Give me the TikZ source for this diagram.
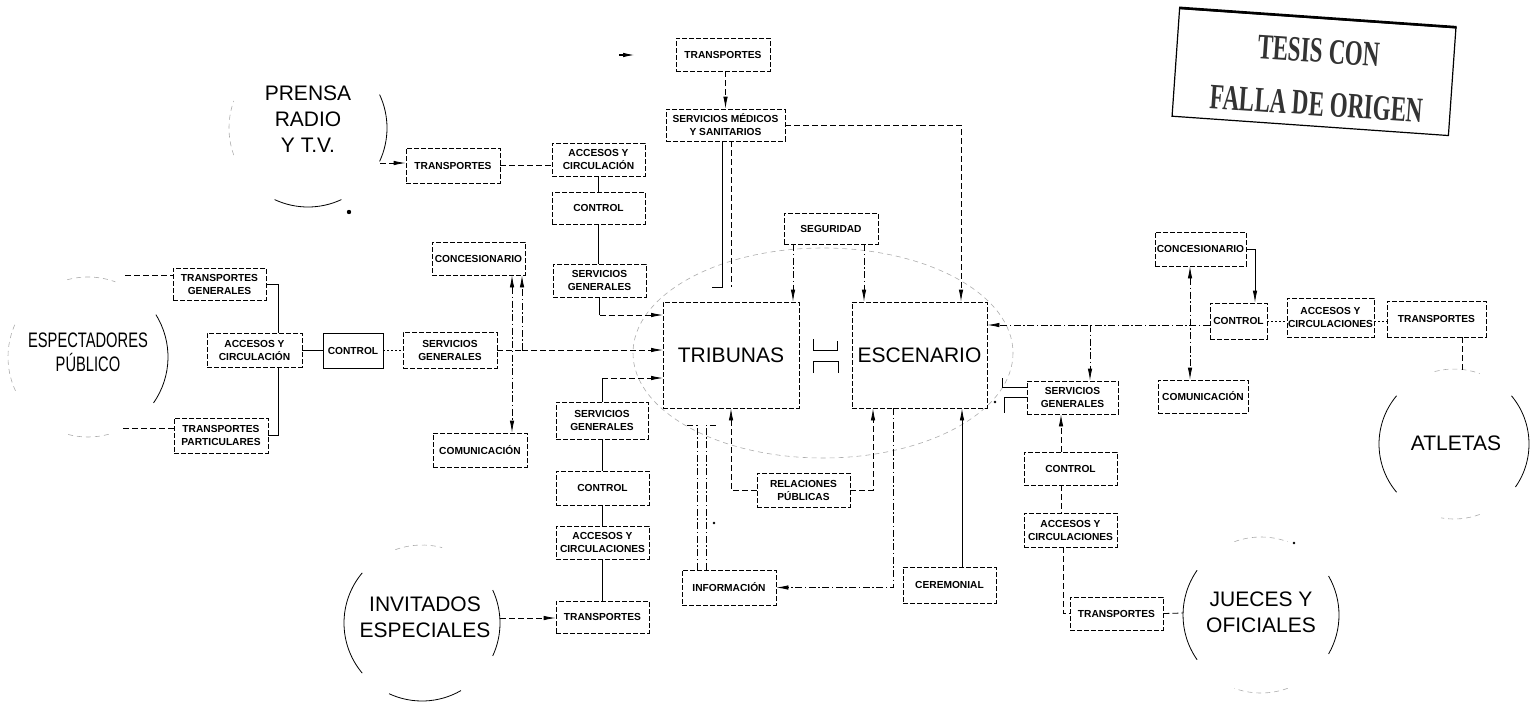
\documentclass[tikz,border=0pt]{standalone}
\usepackage{fontspec}
\usepackage{graphicx}
\setmainfont{Liberation Sans}
\newfontfamily\condfont[FakeStretch=0.7]{Liberation Sans}
\newfontfamily\stampfont{Liberation Serif}
\usetikzlibrary{arrows.meta,calc}
\newcommand\smf{\fontsize{10.2}{13}\selectfont\bfseries}
\newcommand\bigf{\fontsize{21}{26}\selectfont}
\newcommand\condbig{\condfont\fontsize{21}{24}\selectfont}
\newcommand\stampf{\stampfont\bfseries\fontsize{23}{28}\selectfont}
\newcommand\carc[5]{\draw[#1] ([shift={(#3:#5)}]#2) arc[start angle=#3,end angle=#4,radius=#5];}
\tikzset{
  bx/.style={draw,line width=0.8pt,dash pattern=on 5pt off 2pt,fill=white,inner sep=0.5pt,align=center,font=\smf},
  sbx/.style={bx,solid},
  wh/.style 2 args={minimum width=#1pt,minimum height=#2pt},
  big/.style={align=center,font=\bigf},
  cn/.style={line width=0.8pt},
  dcn/.style={line width=0.8pt,dash pattern=on 6pt off 3pt},
  ddcn/.style={line width=0.8pt,dash pattern=on 7pt off 2.5pt on 1.5pt off 2.5pt},
  dotc/.style={line width=0.8pt,dash pattern=on 2pt off 2pt},
  arr/.style={-{Latex[length=12pt,width=4.5pt]}},
  arrb/.style={{Latex[length=12pt,width=4.5pt]}-{Latex[length=12pt,width=4.5pt]}},
  faint/.style={gray!65,line width=0.6pt,dash pattern=on 5pt off 4pt},
  arcst/.style={line width=0.8pt},
  stamptext/.style={rotate=-4,inner sep=0pt,font=\stampf,text=black!80}
}
\begin{document}
\begin{tikzpicture}[x=1pt,y=-1pt]
\useasboundingbox (0,0) rectangle (1531,707);

% big ellipse behind the central boxes
\draw[faint] (823,353) ellipse[x radius=190,y radius=105];

% ---------- circles (partial arcs) ----------
\carc{faint}{308,128}{160}{200}{79}
\carc{arcst}{308,128}{-25}{25}{79}
\carc{arcst}{308,128}{65}{115}{79}
\carc{faint}{88,357}{155}{205}{80}
\carc{arcst}{88,357}{-32}{35}{80}
\carc{faint}{88,357}{255}{290}{80}
\carc{faint}{88,357}{75}{105}{80}
\carc{arcst}{422,623}{140}{220}{78}
\carc{arcst}{422,623}{-25}{25}{78}
\carc{arcst}{422,623}{60}{115}{78}
\carc{faint}{422,623}{250}{285}{78}
\carc{arcst}{1261,615}{145}{215}{78}
\carc{arcst}{1261,615}{-30}{30}{78}
\carc{faint}{1261,615}{250}{290}{78}
\carc{faint}{1261,615}{70}{110}{78}
\carc{arcst}{1454,444}{140}{220}{75}
\carc{arcst}{1454,444}{-40}{35}{75}
\carc{faint}{1454,444}{255}{290}{75}
\carc{faint}{1454,444}{70}{100}{75}

\node[big] (prensa) at (308,119) {PRENSA\\RADIO\\Y T.V.};
\node[align=center,font=\condbig] (espec) at (88,352) {ESPECTADORES\\PÚBLICO};
\node[big] (invit) at (425,617) {INVITADOS\\ESPECIALES};
\node[big] (jueces) at (1261,612) {JUECES Y\\OFICIALES};
\node[big] (atl) at (1456,443) {ATLETAS};

% ---------- boxes ----------
\node[bx,wh={93}{32}] (tg) at (219.5,284) {TRANSPORTES\\GENERALES};
\node[bx,wh={95}{34}] (acl) at (254.5,350) {ACCESOS Y\\CIRCULACIÓN};
\node[sbx,wh={60}{35}] (ctl) at (353,350.5) {CONTROL};
\node[bx,wh={94}{36}] (sgl) at (450,350) {SERVICIOS\\GENERALES};
\node[bx,wh={94}{35}] (tp) at (221,435.5) {TRANSPORTES\\PARTICULARES};
\node[bx,wh={93}{33}] (conl) at (478.5,258.5) {CONCESIONARIO};
\node[bx,wh={94}{34}] (coml) at (480,450) {COMUNICACIÓN};
\node[bx,wh={94}{35}] (trp) at (453,165.5) {TRANSPORTES};

\node[bx,wh={93}{33}] (act) at (598.5,159.5) {ACCESOS Y\\CIRCULACIÓN};
\node[bx,wh={93}{32}] (ctt) at (598.5,208) {CONTROL};
\node[bx,wh={93}{33}] (sgt) at (599.5,280.5) {SERVICIOS\\GENERALES};
\node[bx,wh={94}{33}] (trt) at (723,54.5) {TRANSPORTES};
\node[bx,wh={119}{32}] (sms) at (725.5,125) {SERVICIOS MÉDICOS\\Y SANITARIOS};
\node[bx,wh={94}{31}] (seg) at (831,228.5) {SEGURIDAD};

\node[bx,wh={136}{106},font=\bigf] (trib) at (731,355) {TRIBUNAS};
\node[bx,wh={135}{106},font=\bigf] (esc) at (919.5,355) {ESCENARIO};
\node[bx,wh={93}{34}] (rp) at (803.5,490) {RELACIONES\\PÚBLICAS};
\node[bx,wh={94}{35}] (info) at (729,587.5) {INFORMACIÓN};
\node[bx,wh={93}{36}] (cer) at (949.5,585) {CEREMONIAL};

\node[bx,wh={92}{37}] (sgb) at (602,420.5) {SERVICIOS\\GENERALES};
\node[bx,wh={93}{34}] (ctb) at (602.5,488) {CONTROL};
\node[bx,wh={93}{33}] (acb) at (602.5,542.5) {ACCESOS Y\\CIRCULACIONES};
\node[bx,wh={93}{32}] (trb) at (602.5,617) {TRANSPORTES};

\node[bx,wh={91}{33}] (sgr) at (1072.5,397.5) {SERVICIOS\\GENERALES};
\node[bx,wh={93}{33}] (ctr2) at (1070.5,468.5) {CONTROL};
\node[bx,wh={93}{34}] (acr2) at (1070.5,530) {ACCESOS Y\\CIRCULACIONES};
\node[bx,wh={93}{33}] (trj) at (1116.5,613.5) {TRANSPORTES};
\node[bx,wh={91}{34}] (conr) at (1200.5,249) {CONCESIONARIO};
\node[bx,wh={90}{33}] (comr) at (1203,396.5) {COMUNICACIÓN};
\node[bx,wh={57}{36}] (ctr) at (1238.5,321) {CONTROL};
\node[bx,wh={87}{39}] (acr) at (1330.5,317.5) {ACCESOS Y\\CIRCULACIONES};
\node[bx,wh={99}{36}] (tra) at (1436.5,319) {TRANSPORTES};

% ---------- helper coordinates ----------
\coordinate (pr1) at (380,163);
\coordinate (tl1) at (663,315);
\coordinate (tl2) at (663,350);
\coordinate (tl3) at (663,378);
\coordinate (j522) at (522,350);
\coordinate (x512) at (512,0);
\coordinate (iv1) at (500,618);
\coordinate (e1) at (125,275);
\coordinate (e2) at (123,428);
\coordinate (x278) at (278,0);
\coordinate (o1) at (619,55);
\coordinate (o2) at (635,55);
\coordinate (x722) at (722,0);
\coordinate (x731) at (731,0);
\coordinate (x961) at (961,0);
\coordinate (x793) at (793,0);
\coordinate (x864) at (864,0);
\coordinate (x873) at (873,0);
\coordinate (x893) at (893,0);
\coordinate (x962) at (962,0);
\coordinate (x697) at (697,0);
\coordinate (x706) at (706,0);
\coordinate (r325) at (0,325);
\coordinate (x1090) at (1090,0);
\coordinate (x1061) at (1061,0);
\coordinate (x1063) at (1063,0);
\coordinate (ju1) at (1183,613);
\coordinate (x1190) at (1190,0);
\coordinate (x1255) at (1255,0);
\coordinate (atop) at (1462,370);

% ---------- connectors: left ----------
\draw[dcn,arr] (pr1) -- (pr1 -| trp.west);
\draw[dcn] (trp.east) -- (trp.east -| act.west);
\draw[dcn] (e1) -- (e1 -| tg.west);
\draw[dcn] (e2) -- (e2 -| tp.west);
\draw[cn] (tg.east) -| (acl.north -| x278);
\draw[cn] (acl.south -| x278) |- (tp.east);
\draw[cn] (acl.east) -- (acl.east -| ctl.west);
\draw[dotc] (ctl.east) -- (ctl.east -| sgl.west);
\draw[dcn] (sgl.east) -- (j522);
\draw[dcn,arr] (j522) -- (tl2);
\draw[ddcn,arr] (j522) -- (j522 |- conl.south);
\draw[ddcn,arrb] (conl.south -| x512) -- (coml.north -| x512);

% ---------- connectors: top ----------
\draw[cn] (act.south) -- (act.south |- ctt.north);
\draw[cn] (ctt.south) -- (ctt.south |- sgt.north);
\draw[cn] (sgt.south) -- (sgt.south |- tl1);
\draw[dcn,arr] (sgt.south |- tl1) -- (tl1);
\draw[dcn,arr] (sms.north |- trt.south) -- (sms.north);
\draw[line width=1.3pt,arr] (o1) -- (o2);
\draw[cn] (sms.south -| x722) -- (722,287) -- (712,287);
\draw[dcn] (sms.south -| x731) -- (731,287);
\draw[dcn,arr] (sms.east) -| (esc.north -| x961);
\draw[ddcn,arr] (seg.south -| x793) -- (trib.north -| x793);
\draw[ddcn,arr] (seg.south -| x864) -- (esc.north -| x864);

% ---------- connectors: lower middle ----------
\draw[cn] (sgb.north) -- (sgb.north |- tl3);
\draw[dcn,arr] (sgb.north |- tl3) -- (tl3);
\draw[cn] (sgb.south) -- (sgb.south |- ctb.north);
\draw[cn] (ctb.south) -- (ctb.south |- acb.north);
\draw[cn] (acb.south) -- (acb.south |- trb.north);
\draw[dcn,arr] (iv1) -- (iv1 -| trb.west);

% ---------- connectors: centre ----------
\draw[dcn,arr] (rp.west) -| (trib.south);
\draw[dcn,arr] (rp.east) -| (esc.south -| x873);
\draw[ddcn,arr] (esc.south -| x893) |- (info.east);
\draw[cn,arr] (cer.north -| x962) -- (esc.south -| x962);
\draw[ddcn] (info.north -| x697) -- (697,425) -- (687,425);
\draw[ddcn] (info.north -| x706) -- (706,425) -- (716,425);
% joint symbol between TRIBUNAS and ESCENARIO
\draw[cn] (813,339) -- (813,350) -- (837,350) -- (837,341);
\draw[cn] (813,373) -- (813,361) -- (838,361) -- (838,373);

% ---------- connectors: right ----------
\draw[ddcn,arr] (ctr.west |- r325) -- (esc.east |- r325);
\draw[ddcn,arr] (x1090 |- r325) -- (sgr.north -| x1090);
\draw[dcn,arr] (ctr2.north -| x1061) -- (sgr.south -| x1061);
\draw[dcn] (ctr2.south -| x1061) -- (acr2.north -| x1061);
\draw[dcn] (acr2.south -| x1063) |- (trj.west);
\draw[dcn] (trj.east) -- (ju1);
\draw[ddcn,arrb] (conr.south -| x1190) -- (comr.north -| x1190);
\draw[cn,arr] (conr.east) -| (ctr.north -| x1255);
\draw[dotc] (ctr.east) -- (ctr.east -| acr.west);
\draw[dotc] (acr.east |- ctr.east) -- (tra.west |- ctr.east);
\draw[dcn] (tra.south -| atop) -- (atop);
% brackets at left of SERVICIOS GENERALES (right)
\draw[cn] (1002,378) -- (1002,387) -- (1027,387);
\draw[cn] (1027,397) -- (1004,397) -- (1004,413);

% ---------- dots ----------
\fill (349,212) circle[radius=2.2];
\fill (995,402) circle[radius=1.3];
\fill (714,523) circle[radius=1.3];
\fill (1294,543) circle[radius=1.3];

% ---------- stamp ----------
\node[draw,line width=1.2pt,rotate=-4,minimum width=277pt,minimum height=108pt] (stamp) at (1314,72) {};
\draw[line width=2.6pt] (stamp.north west) -- (stamp.north east);
\node[stamptext] (stamp1) at (1319,51) {\scalebox{1}[1.55]{TESIS CON}};
\node[stamptext] (stamp2) at (1317,104) {\scalebox{1}[1.55]{FALLA DE ORIGEN}};
\end{tikzpicture}
\end{document}
